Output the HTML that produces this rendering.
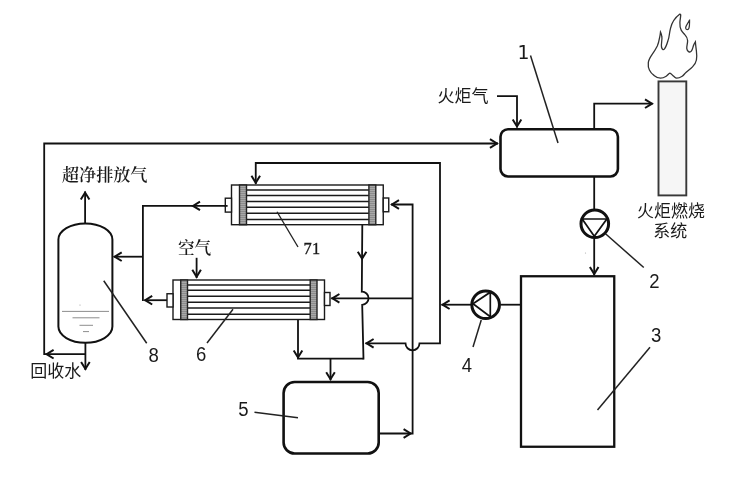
<!DOCTYPE html>
<html lang="zh"><head><meta charset="utf-8"><title>火炬气回收系统</title>
<style>
html,body{margin:0;padding:0;background:#fff;}
body{width:753px;height:478px;overflow:hidden;}
svg{display:block;will-change:transform;opacity:0.999;}
</style></head><body>
<svg width="753" height="478" viewBox="0 0 753 478">
<defs>
<pattern id="hatch" width="2" height="2" patternUnits="userSpaceOnUse"><rect width="2" height="2" fill="#8c8c8c"/><rect width="2" height="1" fill="#a8a8a8"/></pattern>
</defs>
<rect width="753" height="478" fill="#fff"/>
<path d="M85.4 342.8 L85.4 370" fill="none" stroke="#111" stroke-width="1.8" stroke-linejoin="miter" />
<path d="M81.1 361.95 L85.4 368.95 L89.7 361.95" fill="none" stroke="#111" stroke-width="2.0" stroke-linejoin="miter" stroke-linecap="butt"/>
<path d="M85.4 354.2 L44.2 354.2 L44.2 143.5 L498 143.5" fill="none" stroke="#111" stroke-width="1.8" stroke-linejoin="miter" />
<path d="M53.6 349.9 L46.6 354.2 L53.6 358.5" fill="none" stroke="#111" stroke-width="2.0" stroke-linejoin="miter" stroke-linecap="butt"/>
<path d="M489.95 147.8 L496.95 143.5 L489.95 139.2" fill="none" stroke="#111" stroke-width="2.0" stroke-linejoin="miter" stroke-linecap="butt"/>
<path d="M85.1 223.4 L85.1 191.5" fill="none" stroke="#111" stroke-width="1.8" stroke-linejoin="miter" />
<path d="M89.4 199.55 L85.1 192.55 L80.8 199.55" fill="none" stroke="#111" stroke-width="2.0" stroke-linejoin="miter" stroke-linecap="butt"/>
<path d="M225 205.9 L142.9 205.9 L142.9 301.1" fill="none" stroke="#111" stroke-width="1.8" stroke-linejoin="miter" />
<path d="M200 201.6 L193 205.9 L200 210.2" fill="none" stroke="#111" stroke-width="2.0" stroke-linejoin="miter" stroke-linecap="butt"/>
<path d="M142.9 256.7 L113.8 256.7" fill="none" stroke="#111" stroke-width="1.8" stroke-linejoin="miter" />
<path d="M121.7 252.4 L114.7 256.7 L121.7 261" fill="none" stroke="#111" stroke-width="2.0" stroke-linejoin="miter" stroke-linecap="butt"/>
<path d="M167 300.2 L144.5 300.2" fill="none" stroke="#111" stroke-width="1.8" stroke-linejoin="miter" />
<path d="M152.2 295.9 L145.2 300.2 L152.2 304.5" fill="none" stroke="#111" stroke-width="2.0" stroke-linejoin="miter" stroke-linecap="butt"/>
<path d="M196.6 257.8 L196.6 278" fill="none" stroke="#111" stroke-width="1.8" stroke-linejoin="miter" />
<path d="M192.3 269.8 L196.6 276.8 L200.9 269.8" fill="none" stroke="#111" stroke-width="2.0" stroke-linejoin="miter" stroke-linecap="butt"/>
<path d="M255.75 184 L255.75 163 L440 163 L440 343.3 L419.5 343.3 A7 7 0 0 1 405.5 343.3 L365.5 343.3" fill="none" stroke="#111" stroke-width="1.8" />
<path d="M251.45 175.8 L255.75 182.8 L260.05 175.8" fill="none" stroke="#111" stroke-width="2.0" stroke-linejoin="miter" stroke-linecap="butt"/>
<path d="M373.6 339 L366.6 343.3 L373.6 347.6" fill="none" stroke="#111" stroke-width="2.0" stroke-linejoin="miter" stroke-linecap="butt"/>
<path d="M391 204.5 L412.6 204.5 L412.6 434.4" fill="none" stroke="#111" stroke-width="1.8" stroke-linejoin="miter" />
<path d="M399 200.2 L392 204.5 L399 208.8" fill="none" stroke="#111" stroke-width="2.0" stroke-linejoin="miter" stroke-linecap="butt"/>
<path d="M412.6 298.3 L331.3 298.3" fill="none" stroke="#111" stroke-width="1.8" stroke-linejoin="miter" />
<path d="M339.4 294 L332.4 298.3 L339.4 302.6" fill="none" stroke="#111" stroke-width="2.0" stroke-linejoin="miter" stroke-linecap="butt"/>
<path d="M379.25 433.5 L411.8 433.5" fill="none" stroke="#111" stroke-width="1.8" stroke-linejoin="miter" />
<path d="M403.6 437.8 L410.6 433.5 L403.6 429.2" fill="none" stroke="#111" stroke-width="2.0" stroke-linejoin="miter" stroke-linecap="butt"/>
<path d="M362.3 225 L361.8 291.7 A6.5 6.5 0 0 1 362.2 304.8 L363.5 359.5" fill="none" stroke="#111" stroke-width="1.8" />
<path d="M357.8 251.7 L362.1 258.7 L366.4 251.7" fill="none" stroke="#111" stroke-width="2.0" stroke-linejoin="miter" stroke-linecap="butt"/>
<path d="M298 319.5 L298 358.6 L363.5 358.6" fill="none" stroke="#111" stroke-width="1.8" stroke-linejoin="miter" />
<path d="M293.7 350.4 L298 357.4 L302.3 350.4" fill="none" stroke="#111" stroke-width="2.0" stroke-linejoin="miter" stroke-linecap="butt"/>
<path d="M330.5 358.6 L330.5 380.2" fill="none" stroke="#111" stroke-width="1.8" stroke-linejoin="miter" />
<path d="M326.2 372.2 L330.5 379.2 L334.8 372.2" fill="none" stroke="#111" stroke-width="2.0" stroke-linejoin="miter" stroke-linecap="butt"/>
<path d="M471 304.7 L441.5 304.7" fill="none" stroke="#111" stroke-width="1.8" stroke-linejoin="miter" />
<path d="M449.6 300.4 L442.6 304.7 L449.6 309" fill="none" stroke="#111" stroke-width="2.0" stroke-linejoin="miter" stroke-linecap="butt"/>
<path d="M500.5 304.7 L521 304.7" fill="none" stroke="#111" stroke-width="1.8" stroke-linejoin="miter" />
<path d="M594.2 177 L594.2 209.5" fill="none" stroke="#111" stroke-width="1.8" stroke-linejoin="miter" />
<path d="M594.2 238.5 L594.2 275" fill="none" stroke="#111" stroke-width="1.8" stroke-linejoin="miter" />
<path d="M589.9 267 L594.2 274 L598.5 267" fill="none" stroke="#111" stroke-width="2.0" stroke-linejoin="miter" stroke-linecap="butt"/>
<path d="M594.2 129 L594.2 103.7 L652.6 103.7" fill="none" stroke="#111" stroke-width="1.8" stroke-linejoin="miter" />
<path d="M645 108 L652 103.7 L645 99.4" fill="none" stroke="#111" stroke-width="2.0" stroke-linejoin="miter" stroke-linecap="butt"/>
<path d="M497 96.1 L517 96.1 L517 127.5" fill="none" stroke="#111" stroke-width="1.8" stroke-linejoin="miter" />
<path d="M512.7 119.4 L517 126.4 L521.3 119.4" fill="none" stroke="#111" stroke-width="2.0" stroke-linejoin="miter" stroke-linecap="butt"/>
<path d="M58.4 239.6 A27 16.2 0 0 1 112.4 239.6 L112.4 326.6 A27 16.2 0 0 1 58.4 326.6 Z" fill="#fff" stroke="#111" stroke-width="2" />
<path d="M62 311.4 L109 311.4" fill="none" stroke="#808080" stroke-width="0.9" stroke-linejoin="miter" />
<path d="M72.5 317.8 L99.5 317.8" fill="none" stroke="#808080" stroke-width="0.9" stroke-linejoin="miter" />
<path d="M79.5 325.3 L93 325.3" fill="none" stroke="#808080" stroke-width="0.9" stroke-linejoin="miter" />
<path d="M83 331.6 L89 331.6" fill="none" stroke="#808080" stroke-width="0.9" stroke-linejoin="miter" />
<circle cx="80" cy="305" r="0.6" fill="#999"/>
<circle cx="585.5" cy="253" r="0.6" fill="#aaa"/>
<rect x="231.5" y="185" width="151.75" height="39.69999999999999" fill="#fff" stroke="#1a1a1a" stroke-width="1.4"/>
<path d="M246.5 190.042 L368.9 190.042" fill="none" stroke="#1a1a1a" stroke-width="1.5" stroke-linejoin="miter" />
<path d="M246.5 195.401 L368.9 195.401" fill="none" stroke="#1a1a1a" stroke-width="1.5" stroke-linejoin="miter" />
<path d="M246.5 201.436 L368.9 201.436" fill="none" stroke="#1a1a1a" stroke-width="1.5" stroke-linejoin="miter" />
<path d="M246.5 207.311 L368.9 207.311" fill="none" stroke="#1a1a1a" stroke-width="1.5" stroke-linejoin="miter" />
<path d="M246.5 213.266 L368.9 213.266" fill="none" stroke="#1a1a1a" stroke-width="1.5" stroke-linejoin="miter" />
<path d="M246.5 219.38 L368.9 219.38" fill="none" stroke="#1a1a1a" stroke-width="1.5" stroke-linejoin="miter" />
<rect x="239.5" y="185" width="7.0" height="39.69999999999999" fill="url(#hatch)" stroke="#222" stroke-width="1.4"/>
<rect x="368.9" y="185" width="6.900000000000034" height="39.69999999999999" fill="url(#hatch)" stroke="#222" stroke-width="1.4"/>
<rect x="225.3" y="198.2" width="6.199999999999989" height="13.900000000000006" fill="#fff" stroke="#1a1a1a" stroke-width="1.4"/>
<rect x="383.25" y="198" width="5.5" height="13.75" fill="#fff" stroke="#1a1a1a" stroke-width="1.4"/>
<rect x="173" y="280" width="151.5" height="39.5" fill="#fff" stroke="#1a1a1a" stroke-width="1.4"/>
<path d="M187.5 285.017 L310.2 285.017" fill="none" stroke="#1a1a1a" stroke-width="1.5" stroke-linejoin="miter" />
<path d="M187.5 290.349 L310.2 290.349" fill="none" stroke="#1a1a1a" stroke-width="1.5" stroke-linejoin="miter" />
<path d="M187.5 296.353 L310.2 296.353" fill="none" stroke="#1a1a1a" stroke-width="1.5" stroke-linejoin="miter" />
<path d="M187.5 302.199 L310.2 302.199" fill="none" stroke="#1a1a1a" stroke-width="1.5" stroke-linejoin="miter" />
<path d="M187.5 308.124 L310.2 308.124" fill="none" stroke="#1a1a1a" stroke-width="1.5" stroke-linejoin="miter" />
<path d="M187.5 314.207 L310.2 314.207" fill="none" stroke="#1a1a1a" stroke-width="1.5" stroke-linejoin="miter" />
<rect x="180.75" y="280" width="6.75" height="39.5" fill="url(#hatch)" stroke="#222" stroke-width="1.4"/>
<rect x="310.2" y="280" width="6.800000000000011" height="39.5" fill="url(#hatch)" stroke="#222" stroke-width="1.4"/>
<rect x="167" y="293.75" width="6" height="13.25" fill="#fff" stroke="#1a1a1a" stroke-width="1.4"/>
<rect x="324.5" y="292.5" width="5.5" height="13.0" fill="#fff" stroke="#1a1a1a" stroke-width="1.4"/>
<path d="M224.6 205.9 L227.6 205.9" fill="none" stroke="#111" stroke-width="1.8" stroke-linejoin="miter" />
<rect x="283.6" y="382" width="95.1" height="71.5" rx="11" ry="11" fill="#fff" stroke="#111" stroke-width="2.6"/>
<rect x="500.5" y="129.25" width="117.4" height="47.2" rx="7.5" ry="7.5" fill="#fff" stroke="#111" stroke-width="2.6"/>
<rect x="521" y="276.25" width="93.25" height="170.5" fill="#fff" stroke="#111" stroke-width="2.3"/>
<rect x="658.5" y="81.4" width="27.8" height="114" fill="#f6f6f6" stroke="#383838" stroke-width="1.9"/>
<path d="M679.9 14.1 C676 17 672 22 670.5 28.3 C669 34 669.5 37 668 40.5 C667 44 666 47 664.5 48.8 C663.3 50.3 662 49.5 661.5 47 C661 43 662.5 39 661.8 36.5 C661.5 34.5 661 33 660.5 32 C660.3 34 660 36 659.6 37.7 C659 41 658.5 43.5 657.3 46 C655.5 49.5 654 52 652 54.6 C650 57.5 648.5 60 648.3 62.8 C648 66 648.3 68 649.4 70 C650.5 72.3 652 74 654 75.4 C656 77 658 78.2 660.5 78.2 C663 78.2 664.5 77.3 666.2 76.2 C667.8 75.2 668.8 73.3 669.9 73.1 C671 73.1 672.3 75.2 673.7 76.3 C675 77.4 675.5 78.2 676.7 78.2 C678.5 78.2 680.5 77.3 682.2 76.2 C683.8 75.2 684.5 73.8 685.9 72.5 C688 70.5 690.5 69 692.5 66.9 C694.5 64.8 696 62.5 696.4 60 C697 56.5 696.8 54 696.4 51 C696 47.5 695.5 44.5 695.4 41.8 C694.6 43 694 44 693.5 45.5 C692.8 47.5 692.5 49.5 691.5 50.8 C690.7 51.9 689.5 52.2 688.6 51.6 C687.5 51 687 50 686.8 48.6 C686.5 46 687.8 43 687.6 40.5 C687.5 38 686.5 36.5 685 34.9 C683.7 33.3 682.2 32 681.2 30.1 C680 27.8 679.8 25 679.9 22.6 C680 20 680.6 17.5 680.7 15.1 C680.7 14.5 680.4 14 679.9 14.1 Z" fill="#fff" stroke="#333" stroke-width="1.3" />
<path d="M689.6 19.5 C689 22.5 685.3 25.5 685.6 28 C685.9 30.1 688.3 30.3 689 28 C689.8 25.5 689.5 22 689.6 19.5 Z" fill="#fff" stroke="#333" stroke-width="1.2" />
<circle cx="594.8" cy="223.8" r="13.8" fill="#fff" stroke="#111" stroke-width="3"/>
<path d="M582.2 219 L606.8 219 L594.3 236.3 Z" fill="none" stroke="#111" stroke-width="1.7" stroke-linejoin="miter"/>
<circle cx="485.65" cy="304.7" r="13.8" fill="#fff" stroke="#111" stroke-width="3"/>
<path d="M473 303.8 L490.3 292.2 L490.3 316.8 Z" fill="none" stroke="#111" stroke-width="1.7" stroke-linejoin="miter"/>
<path d="M103.75 280.75 L146.7 343.2" fill="none" stroke="#222" stroke-width="1.5" stroke-linejoin="miter" />
<path d="M277 211.75 L298 247" fill="none" stroke="#222" stroke-width="1.35" stroke-linejoin="miter" />
<path d="M233 309.25 L207 343" fill="none" stroke="#222" stroke-width="1.5" stroke-linejoin="miter" />
<path d="M254.5 412.25 L298 417.75" fill="none" stroke="#222" stroke-width="1.3" stroke-linejoin="miter" />
<path d="M481.25 320 L473 347" fill="none" stroke="#222" stroke-width="1.5" stroke-linejoin="miter" />
<path d="M605.5 233.75 L643.75 267.5" fill="none" stroke="#222" stroke-width="1.5" stroke-linejoin="miter" />
<path d="M597.5 410 L650 347.3" fill="none" stroke="#222" stroke-width="1.5" stroke-linejoin="miter" />
<path d="M530.5 55.5 L558 143" fill="none" stroke="#222" stroke-width="1.5" stroke-linejoin="miter" />
<text x="62" y="181" font-size="17.1" font-family="'Liberation Serif', 'Noto Serif CJK SC', serif" fill="#1a1a1a" font-weight="600">超净排放气</text>
<text x="178" y="253.8" font-size="16.6" font-family="'Liberation Serif', 'Noto Serif CJK SC', serif" fill="#1a1a1a" font-weight="600">空气</text>
<text x="30.2" y="377" font-size="17" font-family="'Liberation Sans', 'Noto Sans CJK SC', sans-serif" fill="#1a1a1a" font-weight="400">回收水</text>
<text x="437.6" y="101.9" font-size="17" font-family="'Liberation Sans', 'Noto Sans CJK SC', sans-serif" fill="#1a1a1a" font-weight="400">火炬气</text>
<text x="637.1" y="217.1" font-size="16.95" font-family="'Liberation Sans', 'Noto Sans CJK SC', sans-serif" fill="#1a1a1a" font-weight="400">火炬燃烧</text>
<text x="653.3" y="237" font-size="17" font-family="'Liberation Sans', 'Noto Sans CJK SC', sans-serif" fill="#1a1a1a" font-weight="400">系统</text>
<text x="303.6" y="253.7" font-size="16.4" font-family="'Liberation Serif', 'Noto Serif CJK SC', serif" fill="#1a1a1a" stroke="#1a1a1a" stroke-width="0.35" letter-spacing="0.3">71</text>
<text transform="translate(148.5 362.3) scale(0.96 1)" font-size="19.3" font-family="'Liberation Sans', 'Noto Sans CJK SC', sans-serif" fill="#1a1a1a">8</text>
<text transform="translate(196 360.8) scale(0.96 1)" font-size="19.3" font-family="'Liberation Sans', 'Noto Sans CJK SC', sans-serif" fill="#1a1a1a">6</text>
<text transform="translate(238.2 415.7) scale(0.96 1)" font-size="19.3" font-family="'Liberation Sans', 'Noto Sans CJK SC', sans-serif" fill="#1a1a1a">5</text>
<text transform="translate(461.7 371.7) scale(0.96 1)" font-size="19.3" font-family="'Liberation Sans', 'Noto Sans CJK SC', sans-serif" fill="#1a1a1a">4</text>
<text transform="translate(649.3 288.2) scale(0.96 1)" font-size="19.3" font-family="'Liberation Sans', 'Noto Sans CJK SC', sans-serif" fill="#1a1a1a">2</text>
<text transform="translate(651 341.5) scale(0.96 1)" font-size="19.3" font-family="'Liberation Sans', 'Noto Sans CJK SC', sans-serif" fill="#1a1a1a">3</text>
<text transform="translate(517.4 58.6) scale(0.99 1)" font-size="19" font-family="'DejaVu Sans', 'Liberation Sans', sans-serif" fill="#1a1a1a">1</text>
</svg>
</body></html>
